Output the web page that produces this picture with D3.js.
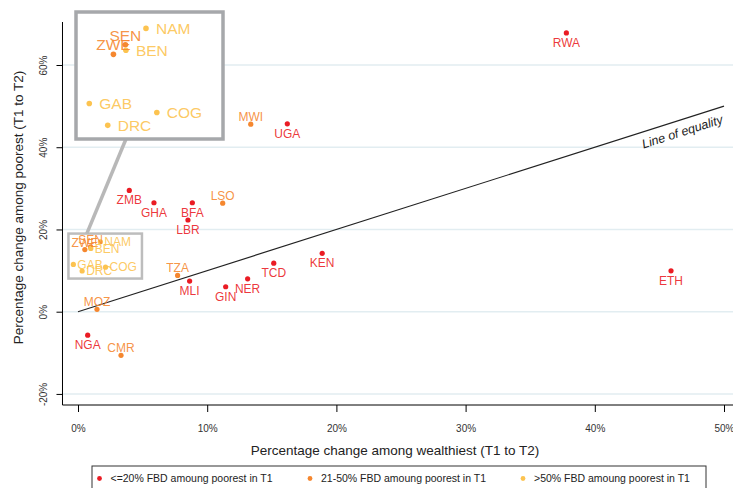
<!DOCTYPE html>
<html lang="en">
<head>
    <meta charset="UTF-8">
    <title>Poorest vs wealthiest</title>
    <script src="https://cdn.jsdelivr.net/npm/d3@7"></script>
    <style>
        body { margin: 0; background: #fff; }
        svg { font-family: "Liberation Sans", Arial, sans-serif; }
        .grid line { stroke: #e2edf1; stroke-width: 1.5; }
        .tick text { fill: #333; font-size: 10px; }
        .axis-title { font-size: 13.5px; fill: #222; }
    </style>
</head>
<body>
<svg width="733" height="488"></svg>
<script>
    // country codes, % change among wealthiest (x) and poorest (y), T1 to T2
    const countries = ["RWA", "ETH", "KEN", "TCD", "NER", "GIN", "MLI", "TZA", "MOZ", "NGA", "CMR",
        "ZMB", "GHA", "BFA", "LBR", "LSO", "MWI", "UGA", "ZWE", "SEN", "BEN", "NAM", "GAB", "DRC", "COG"];
    const wealthiest = [37.8, 45.9, 18.9, 15.15, 13.13, 11.43, 8.64, 7.71, 1.47, 0.75, 3.33,
        3.97, 5.88, 8.85, 8.51, 11.2, 13.37, 16.2, 0.53, 0.97, 0.99, 1.73, -0.36, 0.32, 2.13];
    const poorest = [67.8, 9.95, 14.2, 11.8, 8.0, 6.07, 7.45, 8.83, 0.58, -5.7, -10.6,
        29.5, 26.5, 26.5, 22.3, 26.4, 45.6, 45.7, 15.1, 15.8, 15.4, 17.0, 11.5, 9.9, 10.84];
    // FBD group among poorest in T1: 0 = <=20%, 1 = 21-50%, 2 = >50%
    const fbdGroup = [0, 0, 0, 0, 0, 0, 0, 1, 1, 0, 1,
        0, 0, 0, 0, 1, 1, 0, 1, 1, 2, 2, 2, 2, 2];
    // label clock position (Stata style): 6 below, 12 above, 3 right
    const labelClock = [6, 6, 6, 6, 6, 6, 6, 12, 12, 6, 12,
        6, 6, 6, 6, 12, 12, 6, 12, 12, 3, 3, 3, 3, 3];

    const groupNames = ["<=20% FBD amoung poorest in T1", "21-50% FBD amoung poorest in T1", ">50% FBD amoung poorest in T1"];
    const groupColors = ["#ea1c24", "#f5872f", "#fcc350"];
    const xTicks = [0, 10, 20, 30, 40, 50];
    const yTicks = [-20, 0, 20, 40, 60];

    // zoomed region (data units) and where it is magnified
    const zoomX = [-0.74, 4.95], zoomY = [8.06, 19.0];
    const insetX = [-0.85, 4.57], insetY = [8.9, 18.2];

    const data = countries.map((c, i) => ({
        name: c, x: wealthiest[i], y: poorest[i], g: fbdGroup[i], pos: labelClock[i]
    }));

    const svg = d3.select("svg");
    const x = d3.scaleLinear().domain([0, 50]).range([78, 724]);
    const y = d3.scaleLinear().domain([0, 60]).range([311.7, 65]);
    const xMin = x(-1.2), xMax = 733, yTop = 22, yBot = 405;

    // gridlines
    svg.append("g").attr("class", "grid")
        .selectAll("line").data(yTicks).join("line")
        .attr("x1", xMin).attr("x2", xMax)
        .attr("y1", d => y(d)).attr("y2", d => y(d));

    // axes
    const xAxis = svg.append("g")
        .attr("transform", `translate(0,${yBot})`)
        .call(d3.axisBottom(x).tickValues(xTicks).tickFormat(d => d + "%").tickSize(7).tickSizeOuter(0));
    xAxis.select(".domain").attr("d", `M${xMin},0H${xMax}`);
    xAxis.selectAll(".tick text").attr("dy", "1.65em");

    const yAxis = svg.append("g")
        .attr("transform", `translate(${xMin},0)`)
        .call(d3.axisLeft(y).tickValues(yTicks).tickFormat(d => d + "%").tickSize(6).tickSizeOuter(0));
    yAxis.select(".domain").attr("d", `M0,${yTop}V${yBot}`);
    yAxis.selectAll(".tick text")
        .attr("transform", "rotate(-90)")
        .attr("x", 0).attr("y", -19)
        .attr("dy", "0.35em")
        .style("text-anchor", "middle");

    svg.append("text").attr("class", "axis-title")
        .attr("x", 395).attr("y", 455).attr("text-anchor", "middle")
        .text("Percentage change among wealthiest (T1 to T2)");
    svg.append("text").attr("class", "axis-title")
        .attr("transform", `translate(23,${(yTop + yBot) / 2 - 6}) rotate(-90)`)
        .attr("text-anchor", "middle")
        .text("Percentage change among poorest (T1 to T2)");

    // line of equality
    svg.append("line")
        .attr("x1", x(0)).attr("y1", y(0)).attr("x2", x(50)).attr("y2", y(50))
        .attr("stroke", "#222").attr("stroke-width", 1.1);
    const ang = Math.atan2(y(50) - y(0), x(50) - x(0)) * 180 / Math.PI;
    svg.append("text")
        .attr("transform", `translate(${x(46.5)},${y(46.5)}) rotate(${ang})`)
        .attr("dy", 16).attr("text-anchor", "middle")
        .style("font-style", "italic").style("font-size", "12.5px").attr("fill", "#222")
        .text("Line of equality");

    // points + labels, drawn with any pair of scales
    function drawPoints(g, sx, sy, fontSize, r, gap) {
        g.selectAll("circle").data(data).join("circle")
            .attr("cx", d => sx(d.x)).attr("cy", d => sy(d.y)).attr("r", r)
            .attr("fill", d => groupColors[d.g]);
        g.selectAll("text").data(data).join("text")
            .attr("x", d => sx(d.x) + (d.pos === 3 ? gap : 0))
            .attr("y", d => sy(d.y) + (d.pos === 6 ? fontSize * 1.15 : d.pos === 12 ? -fontSize * 0.25 : fontSize * 0.36))
            .attr("text-anchor", d => d.pos === 3 ? "start" : "middle")
            .style("font-size", fontSize + "px")
            .attr("fill", d => groupColors[d.g])
            .attr("fill-opacity", 0.9)
            .text(d => d.name);
    }
    drawPoints(svg.append("g"), x, y, 12, 2.6, 4);

    // small box marking the zoomed region
    const zx0 = x(zoomX[0]), zx1 = x(zoomX[1]), zy0 = y(zoomY[1]), zy1 = y(zoomY[0]);
    svg.append("rect")
        .attr("x", zx0).attr("y", zy0).attr("width", zx1 - zx0).attr("height", zy1 - zy0)
        .attr("fill", "none").attr("stroke", "#bdbdbd").attr("stroke-width", 2.5);

    // magnified inset
    const ix = d3.scaleLinear().domain(insetX).range([76, 223]);
    const iy = d3.scaleLinear().domain(insetY).range([139, 12]);
    svg.append("line")
        .attr("x1", zx0 + (zx1 - zx0) * 0.25).attr("y1", zy0)
        .attr("x2", 76 + 147 * 0.34).attr("y2", 139)
        .attr("stroke", "#b8b8b8").attr("stroke-width", 3.5);
    svg.append("rect")
        .attr("x", 76).attr("y", 12).attr("width", 147).attr("height", 127)
        .attr("fill", "#fff").attr("stroke", "#a6a8ab").attr("stroke-width", 3.5);
    svg.append("clipPath").attr("id", "inset-clip")
        .append("rect").attr("x", 78).attr("y", 14).attr("width", 143).attr("height", 123);
    const inset = svg.append("g").attr("clip-path", "url(#inset-clip)");
    drawPoints(inset, ix, iy, 15.5, 2.8, 10);

    // legend
    const lg = svg.append("g");
    lg.append("rect").attr("x", 92).attr("y", 466).attr("width", 614).attr("height", 30)
        .attr("fill", "#fff").attr("stroke", "#333").attr("stroke-width", 1);
    const legX = [99.5, 310, 523];
    groupNames.forEach((n, i) => {
        lg.append("circle").attr("cx", legX[i]).attr("cy", 478.5).attr("r", 2.4).attr("fill", groupColors[i]);
        lg.append("text").attr("x", legX[i] + 11).attr("y", 482)
            .style("font-size", "10.5px").attr("fill", "#222").text(n);
    });
</script>
</body>
</html>
